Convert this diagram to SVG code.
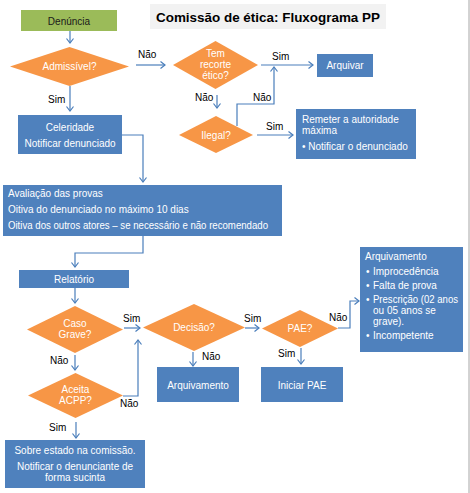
<svg xmlns="http://www.w3.org/2000/svg" width="470" height="493" viewBox="0 0 470 493">
<defs>
<style>
.box{fill:#4F81BD}
.dia{fill:#F79646}
.wt{fill:#FFFFFF;font-family:"Liberation Sans",Arial,sans-serif;font-size:10px}
.wc{text-anchor:middle}
.lb{fill:#000000;font-family:"Liberation Sans",Arial,sans-serif;font-size:10px}
.cn{fill:none;stroke:#4A7EBB;stroke-width:1.2;marker-end:url(#ah)}
</style>
<marker id="ah" markerWidth="10" markerHeight="10" refX="8" refY="5" orient="auto" markerUnits="userSpaceOnUse" viewBox="0 0 10 10">
<path d="M3.5,1.5 L8,5 L3.5,8.5" fill="none" stroke="#4A7EBB" stroke-width="1.2"/>
</marker>
</defs>
<rect x="0" y="0" width="470" height="493" fill="#FFFFFF"/>
<line x1="469" y1="0" x2="469" y2="493" stroke="#A6A6A6" stroke-width="1"/>

<g id="title">
<rect x="150" y="4" width="236" height="25" fill="#F2F2F2"/>
<text x="156" y="22" font-family="'Liberation Sans',Arial,sans-serif" font-size="13.5" font-weight="bold" fill="#000" textLength="224" lengthAdjust="spacingAndGlyphs">Comissão de ética: Fluxograma PP</text>
</g>

<g id="connectors">
<path class="cn" d="M70,31 V43"/>
<path class="cn" d="M136,65 H165"/>
<path class="cn" d="M261,65 H313"/>
<path class="cn" d="M217,95 V108"/>
<path class="cn" d="M237,126 V104 H274 V67"/>
<path class="cn" d="M257,135 H293"/>
<path class="cn" d="M70,86 V111"/>
<path class="cn" d="M122,135 H143 V182"/>
<path class="cn" d="M143,236 V253 H75 V267"/>
<path class="cn" d="M75,288 V303"/>
<path class="cn" d="M124,328 H140"/>
<path class="cn" d="M75,355 V370"/>
<path class="cn" d="M123,396 H138 V340"/>
<path class="cn" d="M76,422 V438"/>
<path class="cn" d="M245,328 H259"/>
<path class="cn" d="M193,352 V366"/>
<path class="cn" d="M301,348 V364"/>
<path class="cn" d="M338,328 H350 V301 H359"/>
<text class="lb" x="138" y="58">Não</text>
<text class="lb" x="272" y="60">Sim</text>
<text class="lb" x="195" y="101">Não</text>
<text class="lb" x="253" y="101">Não</text>
<text class="lb" x="266" y="130">Sim</text>
<text class="lb" x="48" y="103">Sim</text>
<text class="lb" x="123" y="322">Sim</text>
<text class="lb" x="50" y="364">Não</text>
<text class="lb" x="120" y="407">Não</text>
<text class="lb" x="49" y="431">Sim</text>
<text class="lb" x="244" y="322">Sim</text>
<text class="lb" x="202" y="360">Não</text>
<text class="lb" x="278" y="357">Sim</text>
<text class="lb" x="329" y="321">Não</text>
</g>

<g id="denuncia">
<rect x="21" y="10" width="96" height="21" fill="#9BBB59"/>
<text x="69" y="24.5" text-anchor="middle" font-family="'Liberation Sans',Arial,sans-serif" font-size="10" fill="#1A1A1A">Denúncia</text>
</g>

<g id="admissivel">
<polygon class="dia" points="10,66.5 69.5,47 129,66.5 69.5,86"/>
<text class="wt wc" x="69.5" y="70">Admissível?</text>
</g>

<g id="recorte">
<polygon class="dia" points="173,65 215.5,41 258,65 215.5,89"/>
<text class="wt wc" x="215.5" y="57">Tem</text>
<text class="wt wc" x="215.5" y="68">recorte</text>
<text class="wt wc" x="215.5" y="79">ético?</text>
</g>

<g id="arquivar">
<rect class="box" x="317" y="54" width="56" height="23"/>
<text class="wt wc" x="345" y="69">Arquivar</text>
</g>

<g id="ilegal">
<polygon class="dia" points="179,135 216,116 253,135 216,153"/>
<text class="wt wc" x="216" y="139">Ilegal?</text>
</g>

<g id="remeter">
<rect class="box" x="296" y="109" width="120" height="50"/>
<text class="wt" x="302" y="123">Remeter a autoridade</text>
<text class="wt" x="302" y="134">máxima</text>
<text class="wt" x="302" y="150">• Notificar o denunciado</text>
</g>

<g id="celeridade">
<rect class="box" x="18" y="115" width="104" height="39"/>
<text class="wt wc" x="70" y="130.5">Celeridade</text>
<text class="wt wc" x="70" y="146.5">Notificar denunciado</text>
</g>

<g id="avaliacao">
<rect class="box" x="3" y="185" width="279" height="51"/>
<text class="wt" x="8" y="197">Avaliação das provas</text>
<text class="wt" x="8" y="212.5">Oitiva do denunciado no máximo 10 dias</text>
<text class="wt" x="8" y="229" textLength="260" lengthAdjust="spacingAndGlyphs">Oitiva dos outros atores – se necessário e não recomendado</text>
</g>

<g id="relatorio">
<rect class="box" x="19" y="270" width="110" height="18"/>
<text class="wt wc" x="74" y="282.5">Relatório</text>
</g>

<g id="casograve">
<polygon class="dia" points="27,329.5 75,306 123,329.5 75,353"/>
<text class="wt wc" x="75" y="327">Caso</text>
<text class="wt wc" x="75" y="338">Grave?</text>
</g>

<g id="aceita">
<polygon class="dia" points="28,395.5 75.5,373 123,395.5 75.5,418"/>
<text class="wt wc" x="75.5" y="392.5">Aceita</text>
<text class="wt wc" x="75.5" y="404">ACPP?</text>
</g>

<g id="sobre">
<rect class="box" x="5" y="440" width="140" height="48"/>
<text class="wt wc" x="75" y="454">Sobre estado na comissão.</text>
<text class="wt wc" x="75" y="470">Notificar o denunciante de</text>
<text class="wt wc" x="75" y="480.5">forma sucinta</text>
</g>

<g id="decisao">
<polygon class="dia" points="143,327.5 194,304 245,327.5 194,351"/>
<text class="wt wc" x="194" y="331">Decisão?</text>
</g>

<g id="arquivamento1">
<rect class="box" x="157" y="367" width="82" height="35"/>
<text class="wt wc" x="198" y="388.5">Arquivamento</text>
</g>

<g id="pae">
<polygon class="dia" points="262,328.5 300,310 338,328.5 300,347"/>
<text class="wt wc" x="300" y="332">PAE?</text>
</g>

<g id="iniciarpae">
<rect class="box" x="261" y="367" width="82" height="35"/>
<text class="wt wc" x="302" y="388.5">Iniciar PAE</text>
</g>

<g id="arquivamento2">
<rect class="box" x="360" y="247" width="103" height="105"/>
<text class="wt" x="365" y="260">Arquivamento</text>
<text class="wt" x="366" y="275">•</text><text class="wt" x="373" y="275">Improcedência</text>
<text class="wt" x="366" y="289">•</text><text class="wt" x="373" y="289">Falta de prova</text>
<text class="wt" x="366" y="303">•</text><text class="wt" x="373" y="303" textLength="85" lengthAdjust="spacingAndGlyphs">Prescrição (02 anos</text>
<text class="wt" x="373" y="314">ou 05 anos se</text>
<text class="wt" x="373" y="325">grave).</text>
<text class="wt" x="366" y="339">•</text><text class="wt" x="373" y="339">Incompetente</text>
</g>
</svg>
